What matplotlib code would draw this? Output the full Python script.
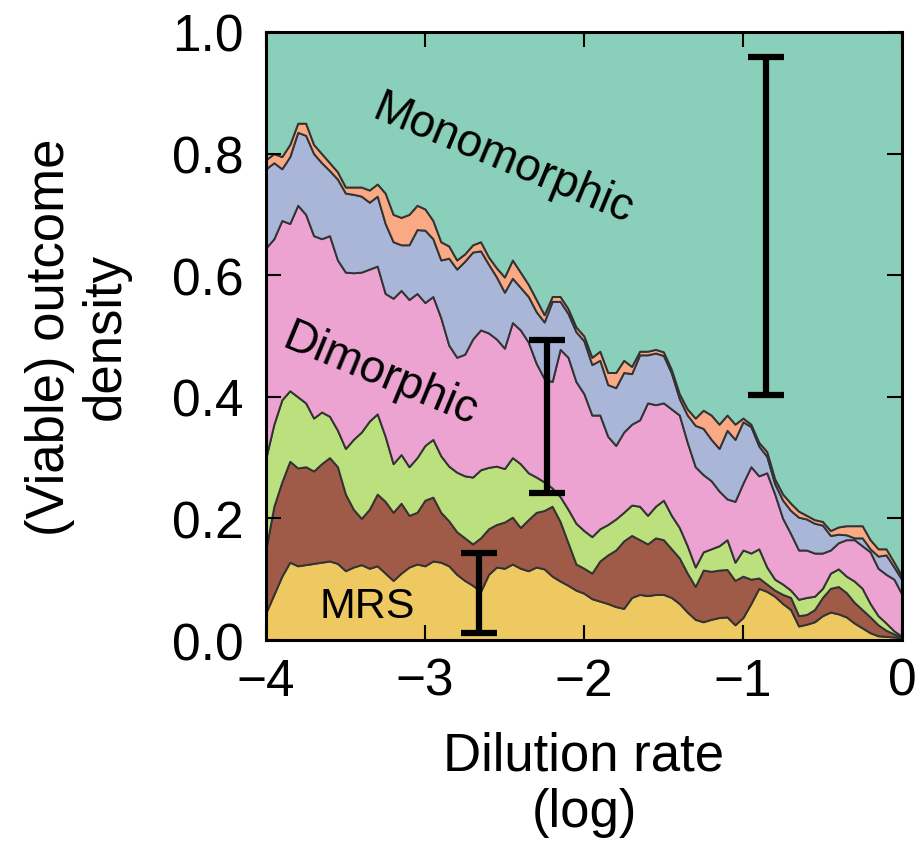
import numpy as np
import matplotlib
matplotlib.use("Agg")
import matplotlib.pyplot as plt

plt.rcParams['font.family'] = ['Liberation Sans', 'DejaVu Sans']

# dilution rate (log), step 0.05
dilution = np.round(np.arange(-4.0, 0.001, 0.05), 2)

# cumulative tops of each layer
top_mrs = [0.045, 0.075, 0.105, 0.128, 0.122, 0.124, 0.126, 0.128, 0.130, 0.126,
           0.114, 0.120, 0.124, 0.118, 0.122, 0.110, 0.098, 0.110, 0.120, 0.125,
           0.122, 0.130, 0.128, 0.122, 0.108, 0.098, 0.090, 0.080, 0.108, 0.120,
           0.118, 0.125, 0.118, 0.114, 0.120, 0.117, 0.105, 0.097, 0.090, 0.082,
           0.077, 0.068, 0.064, 0.060, 0.055, 0.052, 0.070, 0.075, 0.073, 0.075,
           0.075, 0.070, 0.060, 0.046, 0.034, 0.030, 0.034, 0.037, 0.038, 0.025,
           0.037, 0.060, 0.085, 0.080, 0.072, 0.060, 0.050, 0.023, 0.026, 0.030,
           0.040, 0.046, 0.043, 0.038, 0.028, 0.020, 0.012, 0.007, 0.006, 0.005,
           0.004]
top_brown = [0.150, 0.220, 0.260, 0.294, 0.283, 0.285, 0.278, 0.290, 0.300, 0.285,
             0.240, 0.215, 0.200, 0.215, 0.240, 0.228, 0.210, 0.225, 0.205, 0.210,
             0.230, 0.235, 0.210, 0.196, 0.178, 0.168, 0.158, 0.168, 0.183, 0.190,
             0.194, 0.202, 0.185, 0.198, 0.210, 0.213, 0.220, 0.195, 0.160, 0.125,
             0.118, 0.110, 0.130, 0.140, 0.148, 0.163, 0.172, 0.165, 0.158, 0.168,
             0.165, 0.150, 0.135, 0.110, 0.088, 0.115, 0.113, 0.115, 0.116, 0.098,
             0.105, 0.100, 0.102, 0.092, 0.082, 0.075, 0.070, 0.040, 0.042, 0.050,
             0.070, 0.085, 0.088, 0.078, 0.062, 0.050, 0.038, 0.025, 0.016, 0.010,
             0.004]
top_green = [0.300, 0.355, 0.395, 0.410, 0.400, 0.390, 0.365, 0.375, 0.368, 0.345,
             0.315, 0.330, 0.342, 0.360, 0.372, 0.335, 0.290, 0.305, 0.285, 0.300,
             0.320, 0.330, 0.303, 0.286, 0.276, 0.270, 0.268, 0.280, 0.284, 0.286,
             0.282, 0.300, 0.290, 0.275, 0.268, 0.260, 0.250, 0.236, 0.215, 0.192,
             0.180, 0.170, 0.183, 0.190, 0.199, 0.210, 0.222, 0.220, 0.205, 0.220,
             0.230, 0.205, 0.185, 0.155, 0.120, 0.145, 0.150, 0.155, 0.165, 0.128,
             0.148, 0.143, 0.150, 0.120, 0.100, 0.092, 0.082, 0.067, 0.070, 0.072,
             0.085, 0.110, 0.117, 0.105, 0.097, 0.085, 0.060, 0.040, 0.028, 0.015,
             0.006]
top_dimorphic = [0.645, 0.660, 0.690, 0.685, 0.715, 0.700, 0.665, 0.660, 0.665, 0.625,
                 0.605, 0.604, 0.605, 0.610, 0.615, 0.570, 0.562, 0.575, 0.560, 0.570,
                 0.555, 0.565, 0.530, 0.485, 0.465, 0.470, 0.495, 0.510, 0.505, 0.495,
                 0.480, 0.522, 0.510, 0.490, 0.455, 0.430, 0.425, 0.478, 0.465, 0.425,
                 0.405, 0.370, 0.370, 0.335, 0.320, 0.342, 0.355, 0.362, 0.390, 0.387,
                 0.390, 0.380, 0.370, 0.325, 0.285, 0.272, 0.262, 0.245, 0.232, 0.228,
                 0.258, 0.285, 0.270, 0.275, 0.240, 0.200, 0.175, 0.148, 0.148, 0.143,
                 0.143, 0.148, 0.160, 0.165, 0.165, 0.155, 0.145, 0.118, 0.108, 0.100,
                 0.075]
top_blue = [0.775, 0.785, 0.775, 0.795, 0.835, 0.830, 0.800, 0.785, 0.772, 0.758,
            0.735, 0.733, 0.730, 0.720, 0.730, 0.685, 0.655, 0.650, 0.650, 0.675,
            0.674, 0.660, 0.625, 0.628, 0.610, 0.623, 0.638, 0.640, 0.618, 0.597,
            0.572, 0.595, 0.580, 0.565, 0.540, 0.523, 0.557, 0.557, 0.537, 0.507,
            0.492, 0.453, 0.460, 0.420, 0.415, 0.440, 0.438, 0.469, 0.469, 0.472,
            0.468, 0.439, 0.397, 0.370, 0.353, 0.348, 0.330, 0.315, 0.345, 0.330,
            0.359, 0.351, 0.319, 0.302, 0.257, 0.230, 0.213, 0.202, 0.199, 0.192,
            0.189, 0.172, 0.174, 0.173, 0.168, 0.168, 0.150, 0.138, 0.140, 0.120,
            0.099]
top_orange = [0.790, 0.800, 0.795, 0.815, 0.850, 0.850, 0.815, 0.800, 0.785, 0.770,
              0.745, 0.745, 0.745, 0.740, 0.750, 0.735, 0.700, 0.695, 0.700, 0.715,
              0.709, 0.690, 0.655, 0.648, 0.625, 0.635, 0.650, 0.655, 0.630, 0.612,
              0.597, 0.625, 0.605, 0.585, 0.560, 0.535, 0.565, 0.565, 0.545, 0.515,
              0.500, 0.465, 0.475, 0.440, 0.440, 0.460, 0.450, 0.475, 0.475, 0.478,
              0.474, 0.445, 0.405, 0.380, 0.365, 0.378, 0.370, 0.355, 0.370, 0.355,
              0.365, 0.355, 0.325, 0.310, 0.265, 0.240, 0.225, 0.212, 0.205, 0.198,
              0.195, 0.180, 0.186, 0.188, 0.188, 0.188, 0.165, 0.150, 0.150, 0.128,
              0.105]
top_total = [1.0] * len(dilution)

layer_colors = ['#EEC860', '#A05B48', '#BCE07E', '#ECA3D1', '#A9B6D7', '#F9AA85', '#8ACFBA']

# error bars (x, low, high)
err_x = [-2.66, -2.23, -0.855]
err_lo = [0.012, 0.242, 0.403]
err_hi = [0.143, 0.493, 0.959]

fig = plt.figure(figsize=(9.17, 8.54), dpi=100)
ax = fig.add_axes([0.290, 0.2494, 0.6936, 0.712])

bounds = [np.zeros(len(dilution)), top_mrs, top_brown, top_green,
          top_dimorphic, top_blue, top_orange, top_total]
for i in range(7):
    ax.fill_between(dilution, bounds[i], bounds[i + 1], facecolor=layer_colors[i],
                    edgecolor='#333333', linewidth=1.4, zorder=1)

mid = [(a + b) / 2 for a, b in zip(err_lo, err_hi)]
half = [(b - a) / 2 for a, b in zip(err_lo, err_hi)]
ax.errorbar(err_x, mid, yerr=half, fmt='none', ecolor='black', elinewidth=4.5,
            capsize=13, capthick=4.5, zorder=5)

ax.text(-2.51, 0.791, 'Monomorphic', fontsize=33, rotation=-22.5,
        ha='center', va='center', rotation_mode='anchor')
ax.text(-3.28, 0.4375, 'Dimorphic', fontsize=33, rotation=-22.5,
        ha='center', va='center', rotation_mode='anchor')
ax.text(-3.365, 0.056, 'MRS', fontsize=31, ha='center', va='center')

ax.set_xlim(-4, 0)
ax.set_ylim(0, 1)
ax.set_xticks([-4, -3, -2, -1, 0])
ax.set_xticklabels(['\u22124', '\u22123', '\u22122', '\u22121', '0'])
ax.set_yticks([0.0, 0.2, 0.4, 0.6, 0.8, 1.0])
ax.set_yticklabels(['0.0', '0.2', '0.4', '0.6', '0.8', '1.0'])
ax.tick_params(direction='in', length=11, width=1.5, labelsize=37,
               top=True, right=True, pad=12)
ax.tick_params(axis='y', pad=16)
for s in ax.spines.values():
    s.set_linewidth(2.2)
    s.set_zorder(10)

ax.set_xlabel('Dilution rate\n(log)', fontsize=38, labelpad=18, linespacing=1.15)
ax.set_ylabel('(Viable) outcome\ndensity', fontsize=38, labelpad=30, linespacing=1.15)

fig.savefig('out.png', dpi=100)
